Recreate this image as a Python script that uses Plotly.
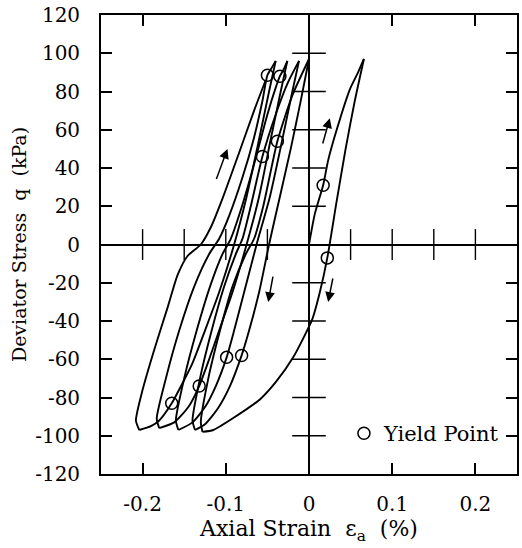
import plotly.graph_objects as go

# ---- Data (strain in %, deviator stress q in kPa) ----
# first loading branch
L0_x = [0.0, 0.007, 0.017, 0.023, 0.034, 0.049, 0.059, 0.066]
L0_q = [0, 16, 31, 44, 61, 81, 90, 97]
# unloading branches (peak -> trough)
U1_x = [0.066, 0.055, 0.044, 0.033, 0.022, 0.013, 0.004, -0.019, -0.040, -0.059, -0.092, -0.115, -0.128]
U1_q = [97, 75, 50, 22, -7, -25, -39, -59, -72, -81, -91, -97, -98]
U2_x = [0.0, -0.010, -0.022, -0.035, -0.048, -0.060, -0.072, -0.081, -0.095, -0.110, -0.125, -0.137]
U2_q = [97, 75, 50, 25, 0, -25, -45, -58, -74, -86, -94, -97]
U3_x = [-0.012, -0.020, -0.032, -0.047, -0.063, -0.078, -0.090, -0.099, -0.112, -0.125, -0.140, -0.157]
U3_q = [96, 80, 55, 25, 0, -25, -45, -59, -74, -85, -93, -97]
U4_x = [-0.026, -0.034, -0.046, -0.060, -0.075, -0.092, -0.108, -0.120, -0.132, -0.145, -0.162, -0.180]
U4_q = [96, 80, 55, 25, 0, -25, -45, -60, -74, -85, -93, -96]
U5_x = [-0.040, -0.048, -0.060, -0.075, -0.090, -0.108, -0.125, -0.140, -0.155, -0.165, -0.180, -0.190, -0.204]
U5_q = [96, 80, 55, 25, 0, -25, -45, -62, -75, -83, -92, -95, -97]
# reloading branches (trough -> peak)
R1_x = [-0.128, -0.130, -0.121, -0.107, -0.092, -0.076, -0.066, -0.055, -0.038, -0.020, 0.0]
R1_q = [-98, -93, -70, -45, -22, -5, 3, 20, 54, 78, 97]
R2_x = [-0.137, -0.140, -0.131, -0.117, -0.102, -0.088, -0.080, -0.070, -0.056, -0.040, -0.025, -0.012]
R2_q = [-97, -92, -70, -45, -22, -5, 3, 20, 46, 68, 85, 96]
R3_x = [-0.157, -0.160, -0.150, -0.135, -0.119, -0.104, -0.094, -0.082, -0.066, -0.050, -0.040, -0.035, -0.030, -0.026]
R3_q = [-97, -92, -70, -45, -22, -5, 3, 18, 42, 68, 82, 88, 92, 96]
R4_x = [-0.180, -0.183, -0.172, -0.156, -0.138, -0.120, -0.108, -0.096, -0.080, -0.066, -0.056, -0.050, -0.044, -0.040]
R4_q = [-96, -91, -70, -45, -22, -5, 3, 15, 35, 56, 75, 88.5, 93, 96]
R5_x = [-0.204, -0.208, -0.200, -0.186, -0.170, -0.158, -0.146, -0.130, -0.118, -0.104, -0.084, -0.066, -0.052]
R5_q = [-97, -92, -76, -55, -33, -16, -6, 0, 9, 24, 48, 70, 86]

# yield points
yield_x = [0.017, 0.022, -0.050, -0.035, -0.056, -0.038, -0.165, -0.132, -0.099, -0.081]
yield_q = [31, -7, 88.5, 88, 46, 54, -83, -74, -59, -58]

# direction arrows: (tail x, tail q, head x, head q)
arrows = [(-0.112, 33.5, -0.098, 50), (0.016, 52, 0.025, 66),
          (-0.043, -16, -0.049, -30), (0.029, -17, 0.023, -30)]

# axis ticks
x_ticks = [-0.2, -0.1, 0.0, 0.1, 0.2]
x_ticktext = ["-0.2", "-0.1", "0", "0.1", "0.2"]
y_ticks = [-120, -100, -80, -60, -40, -20, 0, 20, 40, 60, 80, 100, 120]
y_ticktext = ["-120", "-100", "-80", "-60", "-40", "-20", "0", "20", "40", "60", "80", "100", "120"]
inner_x_ticks = [-0.2, -0.15, -0.1, -0.05, 0.05, 0.1, 0.15, 0.2]
inner_y_ticks = [-100, -80, -60, -40, -20, 20, 40, 60, 80, 100]

FONT = "DejaVu Serif"
fig = go.Figure()

# inner cross-axis ticks
fig.add_trace(go.Scatter(x=inner_x_ticks, y=[0] * len(inner_x_ticks), mode="markers",
                         marker=dict(symbol="line-ns-open", size=22, color="black",
                                     line=dict(width=1.4, color="black")),
                         showlegend=False, hoverinfo="skip"))
fig.add_trace(go.Scatter(x=[0] * len(inner_y_ticks), y=inner_y_ticks, mode="markers",
                         marker=dict(symbol="line-ew-open", size=24, color="black",
                                     line=dict(width=1.4, color="black")),
                         showlegend=False, hoverinfo="skip"))

branches = [(L0_x, L0_q), (U1_x, U1_q), (R1_x, R1_q), (U2_x, U2_q), (R2_x, R2_q),
            (U3_x, U3_q), (R3_x, R3_q), (U4_x, U4_q), (R4_x, R4_q), (U5_x, U5_q), (R5_x, R5_q)]
for bx, bq in branches:
    fig.add_trace(go.Scatter(x=bx, y=bq, mode="lines",
                             line=dict(color="black", width=1.9, shape="spline", smoothing=0.6),
                             showlegend=False, hoverinfo="skip"))

fig.add_trace(go.Scatter(x=yield_x, y=yield_q, mode="markers", name="Yield Point",
                         marker=dict(symbol="circle-open", size=12, color="black",
                                     line=dict(width=1.5, color="black")),
                         showlegend=True, hoverinfo="skip"))

for tx, tq, hx, hq in arrows:
    fig.add_annotation(x=hx, y=hq, ax=tx, ay=tq, xref="x", yref="y", axref="x", ayref="y",
                       text="", showarrow=True, arrowhead=2, arrowsize=1.3, arrowwidth=1.5,
                       arrowcolor="black")

fig.update_layout(
    width=522, height=548,
    margin=dict(l=101, r=3, t=15, b=74),
    paper_bgcolor="white", plot_bgcolor="white",
    font=dict(family=FONT, color="black", size=20),
    showlegend=True,
    legend=dict(x=0.584, y=0.088, xanchor="left", yanchor="middle",
                font=dict(family=FONT, size=21, color="black"),
                bgcolor="rgba(0,0,0,0)", borderwidth=0),
    xaxis=dict(range=[-0.25, 0.25], tickvals=x_ticks, ticktext=x_ticktext,
               ticks="inside", ticklen=11, tickwidth=1.5, tickcolor="black",
               showline=True, linewidth=1.8, linecolor="black", mirror="ticks",
               showgrid=False, zeroline=True, zerolinecolor="black", zerolinewidth=1.6,
               tickfont=dict(family=FONT, size=20), ticklabelstandoff=11,
               title=dict(text="Axial Strain  ε<sub>a</sub>  (%)",
                          font=dict(family=FONT, size=22), standoff=4)),
    yaxis=dict(range=[-120, 120], tickvals=y_ticks, ticktext=y_ticktext,
               ticks="inside", ticklen=11, tickwidth=1.5, tickcolor="black",
               showline=True, linewidth=1.8, linecolor="black", mirror="ticks",
               showgrid=False, zeroline=True, zerolinecolor="black", zerolinewidth=1.6,
               tickfont=dict(family=FONT, size=20), ticklabelstandoff=15,
               title=dict(text="Deviator Stress  q  (kPa)",
                          font=dict(family=FONT, size=19), standoff=4)),
)

fig.write_html("out.html")
